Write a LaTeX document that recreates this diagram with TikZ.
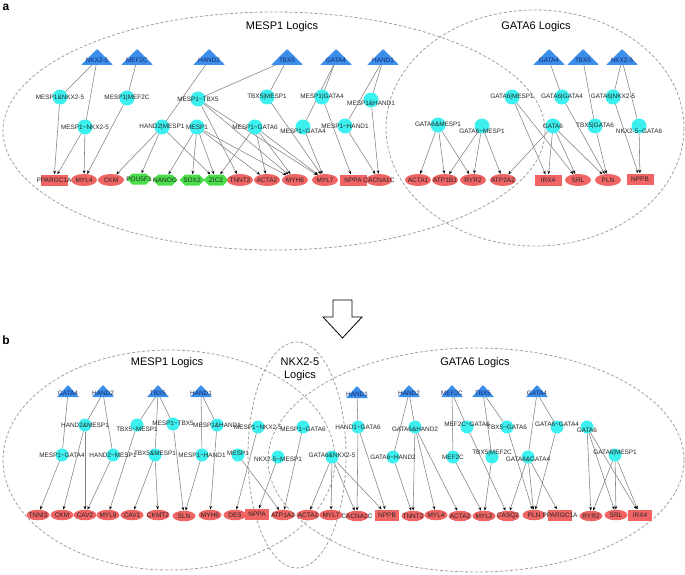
\documentclass[tikz,border=0pt]{standalone}
\usepackage{fontspec}
\setmainfont{Liberation Sans}
\usetikzlibrary{shapes.geometric,shapes.symbols,arrows.meta}
\pgfdeclarelayer{bg}
\pgfsetlayers{bg,main}
\definecolor{regcol}{HTML}{3B8EEA}
\definecolor{reglabcol}{HTML}{16296A}
\definecolor{cyancol}{HTML}{3DF0F0}
\definecolor{redcol}{HTML}{F06464}
\definecolor{greencol}{HTML}{4ADF4A}
\definecolor{edgecol}{HTML}{808080}
\definecolor{dashcol}{HTML}{A0A0A0}
\newcommand\tld{\textasciitilde{}}
\newcommand\regA[4]{%
  \fill[regcol,rounded corners=0.8pt] (#2-16,#3+5) -- (#2+16,#3+5) -- (#2,#3-11) -- cycle;
  \node[reglab] (#1) at (#2,#3) {#4};}
\newcommand\regB[4]{%
  \fill[regcol,rounded corners=0.6pt] (#2-11,#3+4) -- (#2+11,#3+4) -- (#2,#3-8) -- cycle;
  \node[reglab] (#1) at (#2,#3) {#4};}
\tikzset{
  reglab/.style={font=\fontsize{6.4}{7}\selectfont, text=reglabcol, inner sep=0.5pt},
  lablog/.style={font=\fontsize{6.4}{7}\selectfont, text=black!85, inner sep=0pt},
  labtgt/.style={font=\fontsize{6.5}{7}\selectfont, text=black!85, inner sep=0pt},
  logA/.style={circle, fill=cyancol, minimum size=15pt, inner sep=0pt, outer sep=0pt},
  logB/.style={circle, fill=cyancol, minimum size=13pt, inner sep=0pt, outer sep=0pt},
  ellA/.style={ellipse, fill=redcol, minimum width=26pt, minimum height=12pt, inner sep=0pt},
  recA/.style={rectangle, fill=redcol, minimum width=27pt, minimum height=11pt, inner sep=0pt},
  grnA/.style={signal, signal to=east and west, fill=greencol, minimum width=25pt, minimum height=11pt, inner sep=0pt},
  ellB/.style={ellipse, fill=redcol, minimum width=23pt, minimum height=10.5pt, inner sep=0pt},
  recB/.style={rectangle, fill=redcol, minimum width=24pt, minimum height=11pt, inner sep=0pt},
  link/.style={draw=edgecol, line width=0.55pt},
  arr/.style={draw=edgecol, line width=0.55pt, -{Stealth[length=3.6pt,width=2.8pt,black]}},
  logic/.style={dashcol, dash pattern=on 3pt off 2pt, line width=0.8pt},
  ttl/.style={font=\fontsize{11}{13}\selectfont, align=center, inner sep=0pt},
  panel/.style={font=\bfseries\fontsize{12}{14}\selectfont, inner sep=0pt}
}
\newcommand\lgnode[6][0pt]{\node[#2, label={[lablog,yshift=#1]center:#6}] (#3) at (#4,#5) {};}
\newcommand\tgnode[5]{\node[#1, label={[labtgt]center:#5}] (#2) at (#3,#4) {};}
\begin{document}
\begin{tikzpicture}[x=1pt,y=-1pt]
\useasboundingbox (0,0) rectangle (685,575);
% panel letters
\node[panel] (pa) at (6,7) {a};
\node[panel] (pb) at (6,340) {b};
% logic ellipses
\draw[logic] (274,131) ellipse [x radius=271, y radius=119];
\draw[logic] (535,128) ellipse [x radius=149, y radius=118];
\draw[logic] (169,460) ellipse [x radius=166, y radius=110];
\draw[logic] (297,455) ellipse [x radius=49, y radius=113];
\draw[logic] (476,460) ellipse [x radius=208, y radius=112];
\node[ttl] (ta1) at (282,27) {MESP1 Logics};
\node[ttl] (ta2) at (536,27) {GATA6 Logics};
\node[ttl] (tb1) at (167,363) {MESP1 Logics};
\node[ttl] (tb2) at (300,369) {NKX2-5\\Logics};
\node[ttl] (tb3) at (475,363) {GATA6 Logics};
% big arrow
\draw[line width=0.8pt, fill=white] (333,300) -- (352,300) -- (352,317) -- (362,317) -- (342.5,338) -- (323,317) -- (333,317) -- cycle;
% ---------------- part a
\regA{aNKX}{97}{60}{NKX2-5}
\regA{aMEF}{137}{60}{MEF2C}
\regA{aHAND2}{209}{60}{HAND2}
\regA{aTBX5}{287}{60}{TBX5}
\regA{aGATA4}{336}{60}{GATA4}
\regA{aHAND1}{383}{60}{HAND1}
\regA{aGATA4r}{549}{60}{GATA4}
\regA{aTBX5r}{583}{60}{TBX5}
\regA{aNKXr}{622}{60}{NKX2-5}
\lgnode{logA}{aMNa}{60}{97}{MESP1\&NKX2-5}
\lgnode{logA}{aMMEF}{127}{98}{MESP1|MEF2C}
\lgnode{logA}{aMT}{198}{99}{MESP1\tld TBX5}
\lgnode{logA}{aMN}{85}{127}{MESP1\tld NKX2-5}
\lgnode{logA}{aH2M}{162}{127}{HAND2|MESP1}
\lgnode{logA}{aM}{197}{127}{MESP1}
\lgnode{logA}{aTM}{267}{97}{TBX5|MESP1}
\lgnode{logA}{aMG4}{322}{97}{MESP1|GATA4}
\lgnode[-3pt]{logA}{aMH1a}{371}{100}{MESP1\&HAND1}
\lgnode{logA}{aMG6}{255}{127}{MESP1\tld GATA6}
\lgnode[-4pt]{logA}{aMG4n}{303}{127}{MESP1\tld GATA4}
\lgnode{logA}{aMH1n}{345}{126}{MESP1\tld HAND1}
\lgnode{logA}{aG6M}{512}{97}{GATA6|MESP1}
\lgnode{logA}{aG6G4}{562}{97}{GATA6|GATA4}
\lgnode{logA}{aG6N}{613}{97}{GATA6|NKX2-5}
\lgnode[1pt]{logA}{aG6aM}{438}{125}{GATA6\&MESP1}
\lgnode[-5pt]{logA}{aG6nM}{482}{126}{GATA6\tld MESP1}
\lgnode{logA}{aG6}{553}{126}{GATA6}
\lgnode{logA}{aT5G6}{595}{126}{TBX5|GATA6}
\lgnode[-5pt]{logA}{aNnG6}{639}{126}{NKX2-5\tld GATA6}
\tgnode{recA}{aPPARGC1A}{54}{180}{PPARGC1A}
\tgnode{ellA}{aMYL4}{84}{180}{MYL4}
\tgnode{ellA}{aCKM}{111}{180}{CKM}
\tgnode{grnA}{aPOU5F1}{139}{179}{POU5F1}
\tgnode{grnA}{aNANOG}{165}{180}{NANOG}
\tgnode{grnA}{aSOX2}{192}{180}{SOX2}
\tgnode{grnA}{aZIC2}{216}{180}{ZIC2}
\tgnode{ellA}{aTNNT2}{240}{180}{TNNT2}
\tgnode{ellA}{aACTA2}{267}{180}{ACTA2}
\tgnode{ellA}{aMYH6}{295}{180}{MYH6}
\tgnode{ellA}{aMYL7}{325}{180}{MYL7}
\tgnode{recA}{aNPPA}{353}{180}{NPPA}
\tgnode{ellA}{aCACNA1C}{379}{180}{CACNA1C}
\tgnode{ellA}{aACTA1}{418}{180}{ACTA1}
\tgnode{ellA}{aATP1B1}{445}{180}{ATP1B1}
\tgnode{ellA}{aRYR2}{473}{180}{RYR2}
\tgnode{ellA}{aATP2A2}{503}{180}{ATP2A2}
\tgnode{recA}{aIRX4}{548}{180}{IRX4}
\tgnode{ellA}{aSRL}{578}{180}{SRL}
\tgnode{ellA}{aPLN}{608}{180}{PLN}
\tgnode{recA}{aNPPB}{640}{179}{NPPB}
% ---------------- part b
\regB{bGATA4}{68}{393}{GATA4}
\regB{bHAND2}{103}{393}{HAND2}
\regB{bTBX5}{158}{393}{TBX5}
\regB{bHAND1}{201}{393}{HAND1}
\regB{bHAND1r}{357}{394}{HAND1}
\regB{bHAND2r}{409}{393}{HAND2}
\regB{bMEF2C}{452}{393}{MEF2C}
\regB{bTBX5r}{483}{393}{TBX5}
\regB{bGATA4r}{537}{393}{GATA4}
\lgnode{logB}{bH2aM}{85}{425}{HAND2\&MESP1}
\lgnode[-4pt]{logB}{bT5nM}{137}{425}{TBX5\tld MESP1}
\lgnode[1pt]{logB}{bMnT5}{173}{424}{MESP1\tld TBX5}
\lgnode{logB}{bMaH1}{217}{425}{MESP1\&HAND1}
\lgnode{logB}{bMnG4}{62}{455}{MESP1\tld GATA4}
\lgnode{logB}{bH2nM}{113}{455}{HAND2\tld MESP1}
\lgnode[2pt]{logB}{bT5aM}{155}{455}{TBX5\&MESP1}
\lgnode{logB}{bMnH1}{202}{455}{MESP1\tld HAND1}
\lgnode[2pt]{logB}{bM}{238}{455}{MESP1}
\lgnode{logB}{bMnN}{258}{427}{MESP1\tld NKX2-5}
\lgnode[-2pt]{logB}{bMnG6}{303}{427}{MESP1\tld GATA6}
\lgnode[-2pt]{logB}{bNnM}{278}{457}{NKX2-5\tld MESP1}
\lgnode[2pt]{logB}{bG6aN}{332}{457}{GATA6\&NKX2-5}
\lgnode{logB}{bH1nG6}{358}{427}{HAND1\tld GATA6}
\lgnode[-2pt]{logB}{bG6aH2}{415}{427}{GATA6\&HAND2}
\lgnode{logB}{bG6nH2}{393}{457}{GATA6\tld HAND2}
\lgnode[3pt]{logB}{bMEFnG6}{467}{427}{MEF2C\tld GATA6}
\lgnode{logB}{bT5nG6}{507}{427}{TBX5\tld GATA6}
\lgnode[3pt]{logB}{bG6nG4}{557}{427}{GATA6\tld GATA4}
\lgnode[-3pt]{logB}{bG6}{587}{427}{GATA6}
\lgnode{logB}{bMEF}{453}{457}{MEF2C}
\lgnode[4pt]{logB}{bT5MEF}{492}{457}{TBX5|MEF2C}
\lgnode[-2pt]{logB}{bG6aG4}{528}{457}{GATA6\&GATA4}
\lgnode[2pt]{logB}{bG6M}{615}{455}{GATA6|MESP1}
\tgnode{ellB}{bTNNI3}{38}{515}{TNNI3}
\tgnode{ellB}{bCKM}{62}{515}{CKM}
\tgnode{ellB}{bCAV2}{85}{515}{CAV2}
\tgnode{ellB}{bMYL9}{108}{515}{MYL9}
\tgnode{ellB}{bCAV1}{132}{515}{CAV1}
\tgnode{ellB}{bCKMT2}{158}{515}{CKMT2}
\tgnode{ellB}{bSLN}{184}{516}{SLN}
\tgnode{ellB}{bMYH6}{210}{515}{MYH6}
\tgnode{ellB}{bDES}{235}{515}{DES}
\tgnode{recB}{bNPPA}{257}{514}{NPPA}
\tgnode{ellB}{bATP1A2}{283}{515}{ATP1A2}
\tgnode{ellB}{bACTA1}{308}{515}{ACTA1}
\tgnode{ellB}{bMYL7}{331}{515}{MYL7}
\tgnode{ellB}{bCACNA1C}{357}{516}{CACNA1C}
\tgnode{recB}{bNPPB}{387}{515}{NPPB}
\tgnode{ellB}{bTNNT2}{413}{516}{TNNT2}
\tgnode{ellB}{bMYL4}{436}{515}{MYL4}
\tgnode{ellB}{bACTA2}{460}{516}{ACTA2}
\tgnode{ellB}{bMYL2}{484}{516}{MYL2}
\tgnode{ellB}{bCASQ2}{508}{516}{CASQ2}
\tgnode{ellB}{bPLN}{534}{515}{PLN}
\tgnode{recB}{bPPARGC1A}{560}{515}{PPARGC1A}
\tgnode{ellB}{bRYR2}{591}{516}{RYR2}
\tgnode{ellB}{bSRL}{616}{515}{SRL}
\tgnode{recB}{bIRX4}{640}{515}{IRX4}
% ---------------- edges
\begin{pgfonlayer}{bg}
\foreach \s/\t in {aNKX/aMNa, aNKX/aMN, aMEF/aMMEF, aHAND2/aH2M, aTBX5/aMT, aTBX5/aTM,
  aGATA4/aMG4, aGATA4/aMG4n, aHAND1/aMH1a, aHAND1/aMH1n, aGATA4r/aG6G4, aTBX5r/aT5G6,
  aNKXr/aG6N, aNKXr/aNnG6,
  bGATA4/bMnG4, bHAND2/bH2aM, bHAND2/bH2nM, bTBX5/bT5nM, bTBX5/bMnT5, bTBX5/bT5aM,
  bHAND1/bMaH1, bHAND1/bMnH1, bHAND1r/bH1nG6, bHAND2r/bG6aH2, bHAND2r/bG6nH2,
  bMEF2C/bMEF, bMEF2C/bMEFnG6, bTBX5r/bT5MEF, bTBX5r/bT5nG6, bGATA4r/bG6aG4, bGATA4r/bG6nG4}
  \draw[link] (\s) -- (\t);
\foreach \s/\t in {aMNa/aPPARGC1A, aMN/aPPARGC1A, aMN/aMYL4, aMMEF/aMYL4,
  aH2M/aCKM, aH2M/aPOU5F1, aH2M/aZIC2,
  aM/aNANOG, aM/aSOX2, aM/aZIC2, aM/aACTA2, aM/aMYH6,
  aMT/aTNNT2, aMT/aMYH6, aMT/aMYL7,
  aMG6/aZIC2, aMG6/aACTA2, aMG6/aMYH6, aMG6/aMYL7,
  aTM/aMYL7, aMG4n/aMYL7, aMG4/aNPPA, aMH1n/aCACNA1C, aMH1a/aCACNA1C,
  aG6aM/aACTA1, aG6aM/aATP1B1, aG6aM/aRYR2,
  aG6nM/aATP1B1, aG6nM/aRYR2, aG6nM/aATP2A2,
  aG6/aATP2A2, aG6/aIRX4, aG6/aSRL, aG6/aPLN,
  aG6M/aIRX4, aG6M/aSRL, aG6G4/aPLN, aT5G6/aPLN, aG6N/aNPPB, aNnG6/aNPPB,
  bMnG4/bTNNI3, bH2aM/bCKM, bH2aM/bCAV2, bH2nM/bCAV2, bT5nM/bMYL9,
  bT5aM/bCAV1, bT5aM/bCKMT2, bMnT5/bSLN, bMnH1/bSLN, bMaH1/bMYH6,
  bMnN/bDES, bM/bATP1A2, bNnM/bNPPA, bMnG6/bATP1A2,
  bG6aN/bACTA1, bG6aN/bMYL7, bG6aN/bCACNA1C, bG6aN/bNPPB,
  bH1nG6/bCACNA1C, bH1nG6/bNPPB, bG6nH2/bTNNT2,
  bG6aH2/bTNNT2, bG6aH2/bMYL4, bG6aH2/bACTA2,
  bMEF/bMYL2, bT5MEF/bMYL2, bMEFnG6/bCASQ2, bT5nG6/bPLN,
  bG6aG4/bCASQ2, bG6aG4/bPLN, bG6aG4/bPPARGC1A, bG6nG4/bPLN,
  bG6/bRYR2, bG6/bSRL, bG6/bIRX4, bG6M/bRYR2, bG6M/bSRL, bG6M/bIRX4}
  \draw[arr] (\s) -- (\t);
\end{pgfonlayer}
\end{tikzpicture}
\end{document}
